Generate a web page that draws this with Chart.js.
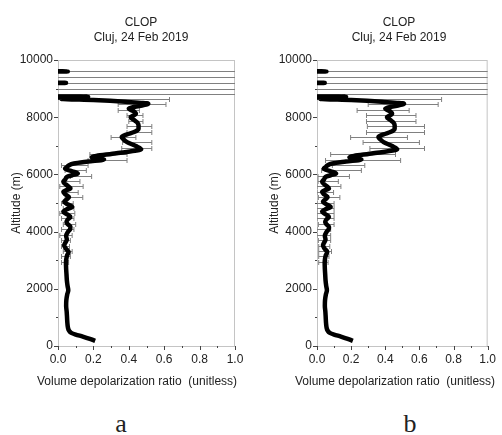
<!DOCTYPE html>
<html>
<head>
<meta charset="utf-8">
<script src="https://cdn.jsdelivr.net/npm/chart.js@4.4.1/dist/chart.umd.min.js"></script>
<style>
  body { margin: 0; background: #fff; width: 502px; height: 435px; position: relative; overflow: hidden;
         font-family: "Liberation Sans", Arial, sans-serif; color: #222; }
  .box { position: absolute; top: 0; height: 400px; }
  .t { position: absolute; font-size: 12px; line-height: 15px; text-align: center; white-space: nowrap; transform: translateX(-50%); }
  .lab { position: absolute; font-family: "Liberation Serif", "Times New Roman", serif; font-size: 26px; line-height: 30px; transform: translateX(-50%); }
</style>
</head>
<body>
<div class="box" style="left:0;width:250px"><canvas id="chartA"></canvas></div>
<div class="box" style="left:258px;width:244px"><canvas id="chartB"></canvas></div>

<div class="t" style="left:141px;top:15px">CLOP<br>Cluj, 24 Feb 2019</div>
<div class="t" style="left:399px;top:15px">CLOP<br>Cluj, 24 Feb 2019</div>
<div class="t" style="left:137px;top:374px">Volume depolarization ratio&nbsp; (unitless)</div>
<div class="t" style="left:395px;top:374px">Volume depolarization ratio&nbsp; (unitless)</div>
<div class="lab" style="left:121px;top:409px">a</div>
<div class="lab" style="left:410px;top:409px">b</div>

<script>
// depolarization profile (same in both panels), altitude in m
const profAlt = [180, 250, 330, 400, 460, 540, 650, 800, 1000, 1200, 1400, 1600, 1800, 1950, 2100, 2300, 2500, 2700, 2900,
  3050, 3180, 3290, 3400, 3520, 3620, 3720, 3850, 3990, 4080, 4170, 4260, 4340, 4430, 4510, 4600, 4690, 4780, 4860, 4950,
  5040, 5120, 5210, 5300, 5390, 5450, 5510, 5620, 5740, 5830, 5910, 5970, 6030, 6110, 6200, 6250, 6310, 6380, 6450, 6520,
  6600, 6740, 6880, 6990, 7130, 7230, 7310, 7400, 7480, 7600, 7720, 7830, 7900, 8000, 8120, 8200, 8300, 8380, 8470, 8540,
  8600, 8640, 8665, 8690, 8715, 8735, 9190, 9200, 9210, 9590, 9600, 9610];
const profVal = [0.21, 0.18, 0.14, 0.10, 0.075, 0.062, 0.056, 0.053, 0.051, 0.049, 0.046, 0.047, 0.052, 0.058, 0.054, 0.05, 0.048, 0.046, 0.045,
  0.047, 0.052, 0.06, 0.045, 0.035, 0.042, 0.05, 0.046, 0.056, 0.068, 0.07, 0.055, 0.048, 0.056, 0.07, 0.052, 0.03, 0.05, 0.08, 0.056,
  0.035, 0.048, 0.062, 0.042, 0.03, 0.048, 0.07, 0.05, 0.03, 0.042, 0.05, 0.08, 0.112, 0.08, 0.04, 0.05, 0.06, 0.09, 0.17, 0.26,
  0.19, 0.33, 0.47, 0.44, 0.39, 0.37, 0.36, 0.39, 0.43, 0.455, 0.455, 0.445, 0.43, 0.41, 0.44, 0.43, 0.40, 0.45, 0.51, 0.38,
  0.2, 0.02, 0.17, 0.0, 0.17, -0.1, -0.1, 0.045, -0.1, -0.1, 0.055, -0.1];

// error bars: altitude, lower / upper end for panel a and panel b
const errAlt = [9600, 9400, 9200, 9000, 8800, 8650, 8460, 8260, 8060, 7880, 7690, 7500, 7320, 7120, 6910, 6720, 6520, 6330,
  6160, 5960, 5780, 5580, 5390, 5200, 5010, 4830, 4650, 4460, 4270, 4080, 3890, 3700, 3510, 3320, 3130, 2940];
const errLoA = [-5, -5, -5, -5, -5, -0.29, 0.34, 0.34, 0.39, 0.40, 0.39, 0.39, 0.30, 0.365, 0.36, 0.18, 0.17, 0.02,
  0.04, 0.07, 0.04, 0.01, 0.04, 0.04, 0.02, 0.03, 0.01, 0.02, 0.03, 0.02, 0.01, 0.02, 0.02, 0.03, 0.02, 0.02];
const errHiA = [5, 5, 5, 5, 5, 0.63, 0.61, 0.46, 0.48, 0.48, 0.53, 0.53, 0.44, 0.53, 0.53, 0.39, 0.39, 0.17,
  0.16, 0.19, 0.124, 0.142, 0.114, 0.14, 0.086, 0.09, 0.095, 0.09, 0.1, 0.09, 0.08, 0.07, 0.065, 0.08, 0.07, 0.06];
const errLoB = [-5, -5, -5, -5, -5, -0.39, 0.30, 0.235, 0.29, 0.29, 0.295, 0.29, 0.197, 0.27, 0.31, 0.08, 0.05, 0.09,
  0.027, 0.006, 0.006, 0.0, 0.0, 0.008, 0.0, 0.0, 0.0, 0.0, 0.008, 0.0, 0.0, 0.008, 0.01, 0.01, 0.01, 0.01];
const errHiB = [5, 5, 5, 5, 5, 0.73, 0.71, 0.54, 0.58, 0.58, 0.63, 0.63, 0.53, 0.60, 0.63, 0.46, 0.49, 0.28,
  0.26, 0.19, 0.125, 0.14, 0.097, 0.134, 0.1, 0.1, 0.1, 0.1, 0.1, 0.08, 0.08, 0.08, 0.075, 0.085, 0.07, 0.065];

const xTicks = ['0.0', '0.2', '0.4', '0.6', '0.8', '1.0'];
const yTicks = [0, 2000, 4000, 6000, 8000, 10000];

Chart.defaults.font.family = '"Liberation Sans", Arial, sans-serif';
Chart.defaults.font.size = 12;
Chart.defaults.color = '#222';

// frame, error bars behind the profile, major/minor tick marks
const extras = {
  id: 'extras',
  beforeDatasetsDraw(chart, args, opts) {
    const { ctx, chartArea: a, scales: { x, y } } = chart;
    ctx.save();
    ctx.strokeStyle = '#c4c4c4';
    ctx.lineWidth = 1;
    ctx.strokeRect(a.left + 0.5, a.top + 0.5, a.right - a.left - 1, a.bottom - a.top);
    ctx.beginPath();
    ctx.rect(a.left, a.top, a.right - a.left, a.bottom - a.top);
    ctx.clip();
    ctx.strokeStyle = '#808080';
    errAlt.forEach((alt, i) => {
      const py = Math.round(y.getPixelForValue(alt)) + 0.5;
      const x0 = x.getPixelForValue(opts.lo[i]);
      const x1 = x.getPixelForValue(opts.hi[i]);
      ctx.beginPath();
      ctx.moveTo(x0, py); ctx.lineTo(x1, py);
      [x0, x1].forEach(px => { ctx.moveTo(px, py - 2.5); ctx.lineTo(px, py + 2.5); });
      ctx.stroke();
    });
    ctx.restore();
  },
  afterDraw(chart) {
    const { ctx, chartArea: a, scales: { x, y } } = chart;
    ctx.save();
    ctx.strokeStyle = '#444';
    ctx.lineWidth = 1;
    ctx.beginPath();
    x.ticks.forEach((t, i) => {
      const px = Math.round(x.getPixelForValue(t.value)) + 0.5;
      ctx.moveTo(px, a.bottom); ctx.lineTo(px, a.bottom + (i % 2 ? 2 : 4));
    });
    y.ticks.forEach((t, i) => {
      const py = Math.round(y.getPixelForValue(t.value)) + 0.5;
      ctx.moveTo(a.left, py); ctx.lineTo(a.left - (i % 2 ? 2 : 4), py);
    });
    ctx.stroke();
    ctx.restore();
  }
};

function makeChart(id, lo, hi, padRight, axisWidth) {
  const data = profAlt.map((alt, i) => ({ x: profVal[i], y: alt }));
  return new Chart(document.getElementById(id), {
    type: 'line',
    data: {
      datasets: [{
        data,
        borderColor: '#000',
        borderWidth: 4.5,
        pointRadius: 0,
        indexAxis: 'y',
        cubicInterpolationMode: 'monotone',
        clip: 0
      }]
    },
    options: {
      responsive: true,
      maintainAspectRatio: false,
      animation: false,
      indexAxis: 'y',
      layout: { padding: { top: 60, right: padRight, left: 0, bottom: 0 } },
      plugins: { legend: { display: false }, tooltip: { enabled: false }, extras: { lo, hi } },
      scales: {
        x: {
          type: 'linear', position: 'bottom', min: 0, max: 1,
          afterFit: s => { s.height = 54; },
          grid: { display: true, drawOnChartArea: false, drawTicks: false },
          border: { color: '#444' },
          ticks: { stepSize: 0.1, padding: 6, maxRotation: 0, autoSkip: false,
            callback: (v, i) => (i % 2 ? '' : xTicks[i / 2]) }
        },
        y: {
          type: 'linear', position: 'left', min: 0, max: 10000,
          afterFit: s => { s.width = axisWidth; },
          grid: { display: true, drawOnChartArea: false, drawTicks: false },
          border: { color: '#444' },
          title: { display: true, text: 'Altitude (m)', padding: { top: 9, bottom: 0 } },
          ticks: { stepSize: 1000, padding: 5, autoSkip: false,
            callback: (v, i) => (i % 2 ? '' : yTicks[i / 2]) }
        }
      }
    },
    plugins: [extras]
  });
}

makeChart('chartA', errLoA, errHiA, 15, 58);
makeChart('chartB', errLoB, errHiB, 9, 59);
</script>
</body>
</html>
